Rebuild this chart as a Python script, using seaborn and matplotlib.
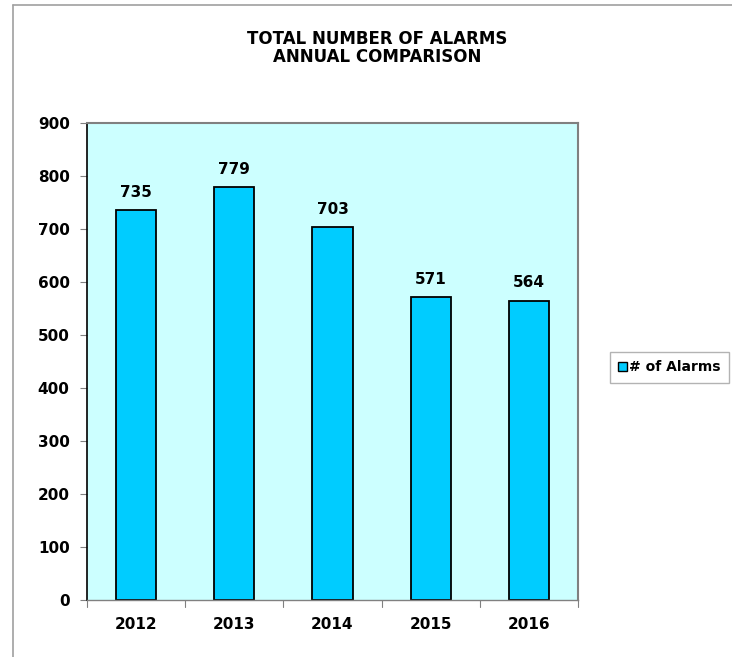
import matplotlib
matplotlib.use("Agg")
import matplotlib.pyplot as plt
from matplotlib.patches import Patch
from matplotlib.lines import Line2D
import seaborn as sns
import pandas as pd

years = ["2012", "2013", "2014", "2015", "2016"]
alarms = [735, 779, 703, 571, 564]
y_ticks = [0, 100, 200, 300, 400, 500, 600, 700, 800, 900]
title_lines = ["TOTAL NUMBER OF ALARMS", "ANNUAL COMPARISON"]
series_name = "# of Alarms"

sns.set_theme(style="white")
plt.rcParams["font.family"] = ["DejaVu Sans"]
plt.rcParams["font.weight"] = "bold"
plt.rcParams["text.color"] = "black"
plt.rcParams["xtick.labelcolor"] = "black"
plt.rcParams["ytick.labelcolor"] = "black"

df = pd.DataFrame({"year": years, "alarms": alarms})

W, H = 732, 657
fig = plt.figure(figsize=(W / 100, H / 100), dpi=100)
ax = fig.add_axes([87 / W, 1 - 600 / H, (578 - 87) / W, (600 - 123) / H])

bar_color = "#00CCFF"
sns.barplot(data=df, x="year", y="alarms", color=bar_color, width=0.41,
            edgecolor="black", linewidth=1.3, saturation=1, ax=ax)

ax.set_facecolor("#CCFFFF")
ax.set_xlim(-0.5, len(years) - 0.5)
ax.set_ylim(0, 900)
ax.set_yticks(y_ticks)
ax.set_yticklabels([str(v) for v in y_ticks], fontsize=11, fontweight="bold",
                   color="black")
ax.set_xticks(range(len(years)))
ax.set_xticklabels(years, fontsize=11, fontweight="bold", color="black")
ax.tick_params(axis="x", length=0, pad=12)
ax.tick_params(axis="y", length=5, width=0.8, color="#808080", pad=7.5,
               left=True)
ax.set_xlabel("")
ax.set_ylabel("")

# category boundary ticks below the x axis
for b in [i - 0.5 for i in range(len(years) + 1)]:
    ax.add_line(Line2D([b, b], [0, -14], color="#808080", lw=0.8,
                       clip_on=False))

for side in ["top", "right"]:
    ax.spines[side].set_color("#808080")
    ax.spines[side].set_linewidth(1.5)
ax.spines["left"].set_color("black")
ax.spines["left"].set_linewidth(1.2)
ax.spines["bottom"].set_color("#808080")
ax.spines["bottom"].set_linewidth(1.0)

for i, v in enumerate(alarms):
    ax.text(i, v + 20, str(v), ha="center", va="bottom",
            fontsize=11, fontweight="bold", color="black")

fig.text(377 / W, 1 - 39 / H, title_lines[0], color="black",
         ha="center", va="center", fontsize=12, fontweight="bold")
fig.text(377 / W, 1 - 57.5 / H, title_lines[1], color="black",
         ha="center", va="center", fontsize=12, fontweight="bold")

handle = Patch(facecolor=bar_color, edgecolor="black", linewidth=1.0)
leg = fig.legend([handle], [series_name], loc="upper left",
                 bbox_to_anchor=(610 / W, 1 - 352 / H), frameon=True,
                 fancybox=False, edgecolor="#A0A0A0",
                 prop={"weight": "bold", "size": 10},
                 handlelength=0.6, handleheight=0.6, handletextpad=0.15,
                 borderpad=0.6, borderaxespad=0)
for t in leg.get_texts():
    t.set_color("black")

# outer frame of the chart area
fig.add_artist(Line2D([13 / W, 13 / W], [0, 1 - 5 / H],
                      color="#A0A0A0", lw=1.2, transform=fig.transFigure))
fig.add_artist(Line2D([13 / W, 1], [1 - 5 / H, 1 - 5 / H],
                      color="#A0A0A0", lw=1.2, transform=fig.transFigure))

fig.savefig("out.png", dpi=100, facecolor="white")
